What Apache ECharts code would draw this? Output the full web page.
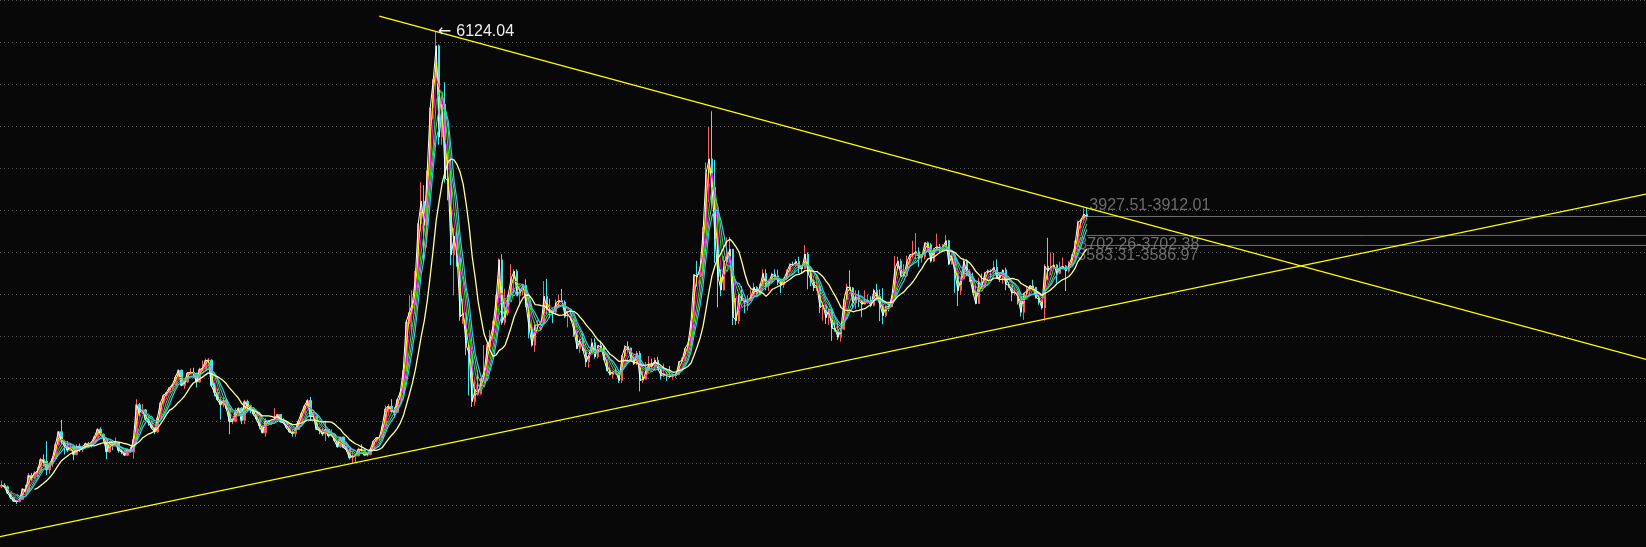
<!DOCTYPE html>
<html>
<head>
<meta charset="utf-8">
<script src="https://cdn.jsdelivr.net/npm/echarts@6/dist/echarts.min.js"></script>
<style>
html,body{margin:0;padding:0;background:#080808;}
#chart{width:1646px;height:547px;}
</style>
</head>
<body>
<div id="chart"></div>
<script>
// Monthly bars, Sep 1995 .. Nov 2025 (363 bars)
const open = [
 720,735,715,640,
 590,545,540,565,690,660,850,820,880,900,1040,1020,
 917,990,1050,1220,1370,1250,1200,1150,1190,1100,1200,1160,
 1195,1230,1205,1245,1310,1400,1340,1290,1130,1230,1200,1240,
 1147,1135,1090,1160,1130,1280,1690,1600,1630,1520,1480,1420,
 1367,1535,1715,1800,1836,1895,1930,2020,2100,1920,1960,2070,
 2073,2065,1960,2110,2120,2215,2220,1920,1835,1750,1690,1740,
 1646,1490,1495,1600,1650,1505,1730,1680,1650,1580,1520,1440,
 1357,1500,1490,1510,1520,1575,1487,1476,1421,1367,1348,1397,
 1497,1590,1675,1741,1550,1555,1400,1387,1342,1396,1320,1340,
 1266,1191,1306,1181,1159,1060,1080,1083,1162,1155,1092,1099,
 1161,1258,1299,1298,1440,1641,1672,1612,1601,1752,1837,2099,
 2675,2786,2881,3183,3841,4109,3820,4471,5218,5552,5955,4871,
 5262,4383,4348,3473,3693,3433,2736,2775,2397,2293,1729,1871,
 1821,1991,2082,2373,2477,2632,2959,3412,2667,2779,2996,3195,
 3277,2989,3051,3109,2870,2592,2398,2638,2638,2656,2979,2820,
 2808,2790,2905,2928,2911,2743,2762,2701,2567,2359,2468,2333,
 2199,2292,2428,2262,2396,2372,2225,2103,2047,2086,2068,1980,
 2269,2385,2365,2237,2178,2301,1979,1994,2098,2175,2141,2220,
 2116,2033,2056,2033,2026,2039,2048,2201,2217,2363,2420,2683,
 3235,3210,3310,3748,4442,4612,4277,3664,3206,3053,3383,3446,
 3539,2738,2688,3004,2938,2917,2930,2979,3085,3005,3100,3250,
 3104,3159,3242,3223,3155,3117,3192,3273,3361,3349,3393,3317,
 3307,3481,3259,3169,3082,3095,2847,2876,2725,2821,2602,2588,
 2493,2584,2941,3091,3078,2898,2979,2932,2886,2905,2929,2872,
 3050,2977,2880,2750,2860,2852,2985,3310,3396,3218,3225,3392,
 3473,3483,3509,3442,3447,3615,3591,3397,3544,3568,3547,3564,
 3640,3361,3462,3252,3047,3186,3398,3253,3202,3024,2893,3151,
 3089,3256,3280,3273,3323,3205,3202,3291,3120,3110,3019,3030,
 2975,2789,3015,3041,3105,3087,2967,2939,2842,3336,3280,3327,
 3352,3251,3320,3336,3279,3347,3444,3573,3857,3883,3955
];
const high = [
 790,760,730,650,
 600,560,580,700,740,880,880,900,950,1060,1100,1258,
 1000,1080,1230,1380,1510,1270,1260,1230,1220,1220,1230,1200,
 1240,1250,1250,1320,1415,1422,1350,1300,1250,1240,1300,1250,
 1160,1150,1170,1190,1300,1756,1710,1700,1640,1560,1500,1420,
 1540,1720,1820,1840,1900,1930,2040,2110,2110,1990,2080,2125,
 2130,2070,2130,2215,2240,2245,2230,1950,1880,1780,1780,1760,
 1650,1530,1650,1660,1660,1750,1750,1690,1660,1590,1530,1450,
 1530,1510,1520,1650,1580,1580,1530,1480,1440,1400,1420,1500,
 1600,1690,1760,1783,1600,1560,1420,1410,1500,1400,1400,1350,
 1270,1310,1310,1250,1160,1140,1100,1180,1220,1160,1110,1180,
 1260,1300,1310,1440,1680,1700,1757,1660,1760,1850,2100,2700,
 2990,3050,3280,3850,4335,4300,4470,5220,5560,6124,5970,5300,
 5522,4700,4470,3790,3790,3450,2950,2790,2400,2330,2000,2100,
 2010,2400,2410,2580,2690,3000,3430,3478,3070,3000,3360,3300,
 3300,3080,3130,3180,2890,2690,2680,2700,2690,3160,3186,2950,
 2840,2940,3000,3067,2930,2770,2830,2710,2580,2470,2536,2340,
 2300,2480,2478,2400,2453,2390,2230,2160,2100,2130,2080,2280,
 2400,2444,2370,2260,2330,2330,2090,2200,2270,2240,2250,2260,
 2120,2180,2080,2150,2060,2070,2210,2250,2360,2430,2690,3240,
 3400,3330,3800,4570,4990,5178,4600,4000,3300,3460,3680,3685,
 3540,2960,3020,3100,2950,2990,3060,3140,3100,3130,3300,3300,
 3180,3260,3300,3295,3160,3200,3300,3370,3390,3420,3450,3330,
 3587,3500,3330,3220,3220,3110,2915,2880,2830,2830,2700,2670,
 2600,2950,3130,3288,3090,3050,3050,2940,3050,3000,2980,3070,
 3127,3060,3075,2860,2900,3000,3458,3450,3425,3360,3460,3475,
 3640,3731,3560,3480,3620,3630,3610,3550,3723,3600,3600,3708,
 3650,3500,3480,3280,3200,3430,3420,3300,3260,3100,3200,3250,
 3270,3300,3300,3400,3418,3260,3300,3320,3150,3120,3090,3040,
 2980,3020,3090,3110,3175,3090,3000,2950,3360,3674,3500,3495,
 3360,3390,3440,3350,3400,3480,3640,3880,3900,4025,4030
];
const low = [
 700,700,630,570,
 540,512,530,560,640,660,780,810,830,880,960,855,
 870,950,1040,1200,1210,1100,1130,1140,1030,1090,1130,1130,
 1170,1190,1180,1240,1300,1320,1250,1043,1120,1150,1200,1120,
 1100,1080,1080,1120,1050,1275,1550,1580,1500,1440,1400,1340,
 1360,1530,1670,1760,1830,1860,1920,2000,1910,1880,1950,2050,
 2010,1895,1950,2090,2110,2190,1900,1790,1740,1514,1660,1620,
 1340,1460,1490,1560,1460,1460,1600,1590,1560,1500,1400,1350,
 1310,1460,1450,1490,1500,1480,1460,1400,1360,1310,1310,1390,
 1490,1580,1650,1500,1530,1390,1340,1320,1260,1300,1310,1250,
 1180,1180,1180,1130,1040,998,1010,1080,1140,1090,1075,1090,
 1160,1240,1260,1295,1430,1560,1600,1540,1600,1740,1820,2090,
 2650,2540,2770,3180,3750,3400,3560,4450,5080,5460,4780,4780,
 4330,4120,3350,2990,3330,2690,2650,2280,1800,1664,1680,1800,
 1810,1990,2040,2350,2450,2630,2950,2640,2640,2750,2990,3040,
 2980,2890,2990,2850,2480,2380,2319,2570,2570,2650,2770,2720,
 2660,2760,2860,2900,2720,2610,2690,2500,2350,2307,2330,2140,
 2132,2290,2240,2240,2320,2220,2090,2040,1999,2050,1950,1949,
 2250,2300,2200,2160,2160,1849,1950,1990,2090,2120,2100,2100,
 1990,2020,1974,2010,1990,2010,2040,2170,2210,2300,2400,2670,
 3095,3050,3220,3740,4100,4050,3373,2850,2983,3050,3370,3440,
 2638,2640,2650,2920,2780,2810,2930,2960,2970,3000,3100,3050,
 3040,3140,3180,3110,3016,3080,3170,3230,3340,3340,3250,3250,
 3300,3062,3100,3040,3040,2780,2690,2650,2640,2449,2560,2460,
 2440,2580,2940,3050,2840,2830,2850,2730,2880,2890,2850,2860,
 2970,2685,2646,2730,2800,2850,2980,3290,3200,3210,3210,3330,
 3440,3420,3330,3380,3420,3520,3380,3390,3540,3510,3520,3560,
 3350,3360,3020,2863,3000,3180,3220,3150,3020,2885,2890,3070,
 3080,3240,3200,3250,3190,3150,3130,3050,3080,2920,2990,2880,
 2740,2700,3000,2990,3080,2950,2880,2820,2690,3170,3230,3320,
 3140,3240,3300,3040,3260,3340,3440,3560,3780,3850,3900
];
const close = [
 735,715,640,590,
 545,540,565,690,660,850,820,880,900,1040,1020,917,
 990,1050,1220,1370,1250,1200,1150,1190,1100,1200,1160,1195,
 1230,1205,1245,1310,1400,1340,1290,1130,1230,1200,1240,1147,
 1135,1090,1160,1130,1280,1690,1600,1630,1520,1480,1420,1367,
 1535,1715,1800,1836,1895,1930,2020,2100,1920,1960,2070,2073,
 2065,1960,2110,2120,2215,2220,1920,1835,1750,1690,1740,1646,
 1490,1495,1600,1650,1505,1730,1680,1650,1580,1520,1440,1357,
 1500,1490,1510,1520,1575,1487,1476,1421,1367,1348,1397,1497,
 1590,1675,1741,1550,1555,1400,1387,1342,1396,1320,1340,1266,
 1191,1306,1181,1159,1060,1080,1083,1162,1155,1092,1099,1161,
 1258,1299,1298,1440,1641,1672,1612,1601,1752,1837,2099,2675,
 2786,2881,3183,3841,4109,3820,4471,5218,5552,5955,4871,5262,
 4383,4348,3473,3693,3433,2736,2775,2397,2293,1729,1871,1821,
 1991,2082,2373,2477,2632,2959,3412,2667,2779,2996,3195,3277,
 2989,3051,3109,2870,2592,2398,2638,2638,2656,2979,2820,2808,
 2790,2905,2928,2911,2743,2762,2701,2567,2359,2468,2333,2199,
 2292,2428,2262,2396,2372,2225,2103,2047,2086,2068,1980,2269,
 2385,2365,2237,2178,2301,1979,1994,2098,2175,2141,2220,2116,
 2033,2056,2033,2026,2039,2048,2201,2217,2363,2420,2683,3235,
 3210,3310,3748,4442,4612,4277,3664,3206,3053,3383,3446,3539,
 2738,2688,3004,2938,2917,2930,2979,3085,3005,3100,3250,3104,
 3159,3242,3223,3155,3117,3192,3273,3361,3349,3393,3317,3307,
 3481,3259,3169,3082,3095,2847,2876,2725,2821,2602,2588,2493,
 2584,2941,3091,3078,2898,2979,2932,2886,2905,2929,2872,3050,
 2977,2880,2750,2860,2852,2985,3310,3396,3218,3225,3392,3473,
 3483,3509,3442,3447,3615,3591,3397,3544,3568,3547,3564,3640,
 3361,3462,3252,3047,3186,3398,3253,3202,3024,2893,3151,3089,
 3256,3280,3273,3323,3205,3202,3291,3120,3110,3019,3030,2975,
 2789,3015,3041,3105,3087,2967,2939,2842,3336,3280,3327,3352,
 3251,3320,3336,3279,3347,3444,3573,3857,3883,3955,3928
];

// Moving average periods (months) and their line colours
const maPeriods = [1, 2, 3, 4, 5, 6, 12];
const maColors  = ['#ffffff', '#ffff00', '#ff00ff', '#00ff00', '#a8a8a8', '#22d4f2', '#ffffa0'];
const maWidths  = [1, 1, 1, 1, 1, 1.2, 1.3];

// Trend lines [barIndex, price]
const upperTrend = [[126, 6307], [548.5, 2230]];
const lowerTrend = [[-0.5, 124], [548.5, 4194]];

// Horizontal levels drawn from the last bar to the right edge
const levelValues = [3927.51, 3702.26, 3583.31];
const levelLabels = ['3927.51-3912.01', '3702.26-3702.38', '3583.31-3586.97'];

// Highest point
const peakIndex = 145;
const peakValue = 6124.04;

const totalSlots = 549;
const months = [];
{
  let y = 1995, m = 9;
  while (months.length < totalSlots) {
    months.push(y + '-' + (m < 10 ? '0' + m : m));
    m++; if (m > 12) { m = 1; y++; }
  }
}

const candles = open.map((o, i) => [o, close[i], low[i], high[i]]);
const lastIndex = close.length - 1;

function calcMA(n) {
  const out = [];
  for (let i = 0; i < close.length; i++) {
    if (i < n - 1) { out.push('-'); continue; }
    let s = 0;
    for (let j = 0; j < n; j++) s += close[i - j];
    out.push(+(s / n).toFixed(2));
  }
  return out;
}

const chart = echarts.init(document.getElementById('chart'), null, {renderer: 'canvas'});

const series = [];
// horizontal level lines (drawn under candles)
levelValues.forEach((v) => {
  series.push({
    type: 'line', xAxisIndex: 1, yAxisIndex: 0, symbol: 'none', silent: true,
    data: [[lastIndex, v], [totalSlots - 0.5, v]],
    lineStyle: {color: '#6e6e6e', width: 1},
    z: 1
  });
});
// level labels
const labelOffsets = [[2.5, -10.4], [-8.5, 9.5], [-9.5, 10.6]];
series.push({
  type: 'scatter', xAxisIndex: 1, yAxisIndex: 0, symbolSize: 0, silent: true, z: 1,
  data: levelValues.map((v, k) => ({
    value: [lastIndex, v],
    label: {
      show: true, position: 'right', distance: 0, offset: labelOffsets[k],
      formatter: levelLabels[k], color: '#858585', fontSize: 16,
      fontFamily: 'Liberation Sans, Arial, sans-serif'
    }
  }))
});

series.push({
  type: 'candlestick',
  data: candles,
  barWidth: 2,
  itemStyle: {
    color: '#ff5c5c', color0: '#3ee8ee',
    borderColor: '#ff5c5c', borderColor0: '#3ee8ee', borderWidth: 1
  },
  markPoint: {
    symbol: 'rect', symbolSize: 1, silent: true,
    itemStyle: {color: 'rgba(0,0,0,0)'},
    data: [{
      coord: [peakIndex, peakValue],
      label: {
        show: true, position: 'right', distance: 1,
        formatter: '{a|\u2190}{b|' + peakValue.toFixed(2) + '}',
        rich: {
          a: {fontFamily: 'DejaVu Sans', fontSize: 16, color: '#eeeeee', width: 18.5, align: 'left'},
          b: {fontFamily: 'Liberation Sans, Arial, sans-serif', fontSize: 16, color: '#eeeeee'}
        }
      }
    }]
  },
  z: 2
});

maPeriods.forEach((p, k) => {
  series.push({
    type: 'line', data: calcMA(p), symbol: 'none', silent: true,
    lineStyle: {color: maColors[k], width: maWidths[k]},
    z: 3
  });
});

[upperTrend, lowerTrend].forEach(t => {
  series.push({
    type: 'line', xAxisIndex: 1, yAxisIndex: 0, symbol: 'none', silent: true,
    data: t, lineStyle: {color: '#ffff00', width: 1.3}, z: 4
  });
});

chart.setOption({
  backgroundColor: '#080808',
  animation: false,
  grid: {left: 0, right: 0, top: -4.87, bottom: -1.56},
  xAxis: [
    {type: 'category', data: months, boundaryGap: true, show: false},
    {type: 'value', min: -0.5, max: totalSlots - 0.5, show: false}
  ],
  yAxis: {
    type: 'value', min: 0, max: 6500, interval: 500,
    axisLine: {show: false}, axisTick: {show: false}, axisLabel: {show: false},
    splitLine: {show: true, lineStyle: {color: '#555555', width: 1, type: [1, 3]}}
  },
  series: series
});
</script>
</body>
</html>
